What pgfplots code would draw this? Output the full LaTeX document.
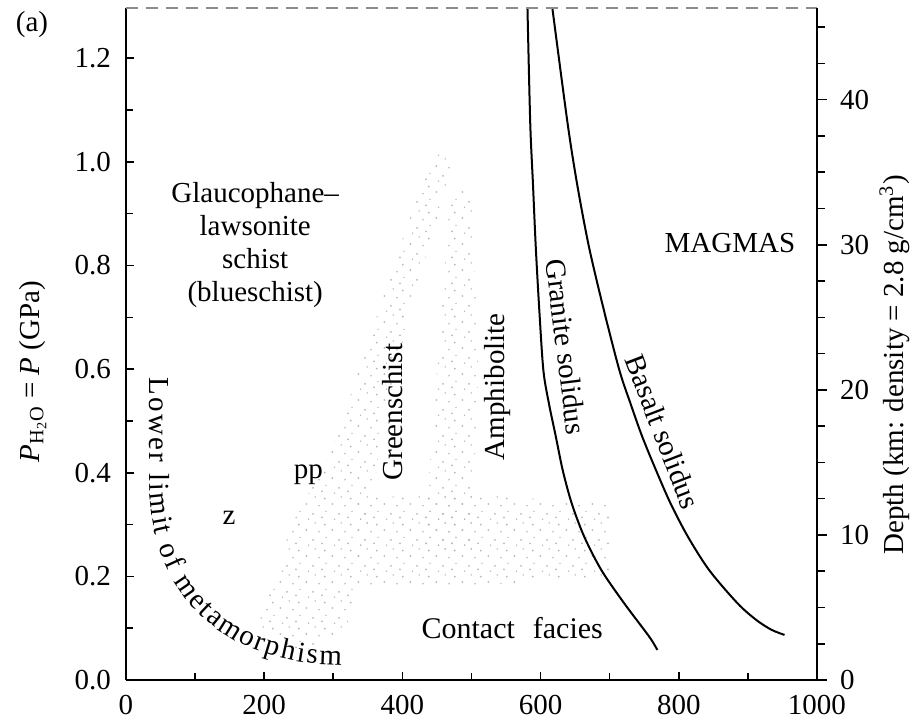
\documentclass[border=0pt]{standalone}
\usepackage{fontspec}
\setmainfont{Liberation Serif}
\usepackage{pgfplots}
\pgfplotsset{compat=1.18}
\usetikzlibrary{patterns,decorations.text}

% sparse, uneven stipple for the facies boundary zones
\pgfdeclarepatternformonly{stipple}{\pgfpoint{-1pt}{-1pt}}{\pgfpoint{14pt}{14pt}}{\pgfpoint{13pt}{13pt}}{%
  \pgfpathcircle{\pgfpoint{0.5pt}{0.5pt}}{0.5pt}%
  \pgfpathcircle{\pgfpoint{7pt}{1.8pt}}{0.4pt}%
  \pgfpathcircle{\pgfpoint{3.5pt}{4.6pt}}{0.45pt}%
  \pgfpathcircle{\pgfpoint{10.2pt}{5.5pt}}{0.5pt}%
  \pgfpathcircle{\pgfpoint{1.6pt}{9pt}}{0.4pt}%
  \pgfpathcircle{\pgfpoint{6.4pt}{8.2pt}}{0.5pt}%
  \pgfpathcircle{\pgfpoint{11.3pt}{10.9pt}}{0.4pt}%
  \pgfpathcircle{\pgfpoint{5pt}{11.8pt}}{0.45pt}%
  \pgfusepath{fill}}

\newcommand\lbl{\fontsize{14.5}{16.5}\selectfont}

\begin{document}
\begin{tikzpicture}
\begin{axis}[
    scale only axis,
    width=345.5pt, height=336pt,
    xmin=0, xmax=1000,
    ymin=0, ymax=1.297,
    axis x line*=bottom,
    axis y line*=left,
    axis line style={line width=0.9pt},
    tick align=inside,
    major tick length=4pt,
    minor tick length=3.5pt,
    every tick/.style={line width=0.8pt, black},
    xtick={0,200,400,600,800,1000},
    minor xtick={100,300,500,700,900},
    ytick={0,0.2,0.4,0.6,0.8,1.0,1.2},
    minor ytick={0.1,0.3,0.5,0.7,0.9,1.1},
    /pgf/number format/assume math mode=true,
    /pgf/number format/1000 sep={},
    tick label style={font=\fontsize{14.5}{17}\selectfont},
    yticklabel style={/pgf/number format/fixed, /pgf/number format/precision=1,
        /pgf/number format/fixed zerofill, xshift=-4pt},
    xticklabel style={yshift=-4pt},
    clip=false,
]
% stippled boundary zones
\addplot[draw=none, pattern=stipple, pattern color=black!28] coordinates {
    (190,0.10) (250,0.05) (320,0.10) (350,0.30) (380,0.55) (430,0.80) (475,1.00)
    (445,1.02) (400,0.85) (350,0.65) (300,0.45) (240,0.30)} -- cycle;
\addplot[draw=none, pattern=stipple, pattern color=black!28] coordinates {
    (430,0.25) (500,0.25) (510,0.60) (500,0.95) (470,0.95) (450,0.60)} -- cycle;
\addplot[draw=none, pattern=stipple, pattern color=black!28] coordinates {
    (330,0.18) (480,0.18) (700,0.20) (700,0.34) (480,0.36) (330,0.35)} -- cycle;

% granite solidus
\addplot[black, line width=1pt, smooth] coordinates {
    (581,1.297) (585,1.075) (589,0.956) (593,0.836) (598,0.717) (604,0.598)
    (612,0.534) (622,0.470) (632,0.405) (645,0.341) (663,0.277) (688,0.212)
    (721,0.148) (757,0.084) (769,0.058)};
% basalt solidus
\addplot[black, line width=1pt, smooth] coordinates {
    (617,1.297) (639,1.075) (653,0.956) (670,0.836) (691,0.717) (714,0.598)
    (730,0.534) (747,0.470) (767,0.405) (788,0.341) (813,0.277) (844,0.212)
    (885,0.148) (912,0.116) (934,0.097) (953,0.087)};

% faint top frame
\draw[black!45, line width=0.6pt, dash pattern=on 6pt off 4pt]
    (rel axis cs:0,1) -- (rel axis cs:1,1);

% labels
\node[font=\lbl] at (axis cs:-136,1.266) {(a)};
\node[font=\lbl, rotate=90] at (axis cs:-135,0.595)
    {\textit{P}\textsubscript{H\textsubscript{2}O} = \textit{P} (GPa)};
\node[font=\lbl, rotate=90] at (axis cs:1112,0.608)
    {Depth (km: density = 2.8 g/cm\textsuperscript{3})};
\node[font=\lbl, align=center] at (axis cs:187,0.840)
    {Glaucophane–\\lawsonite\\schist\\(blueschist)};
\node[font=\lbl] at (axis cs:874,0.844) {MAGMAS};
\node[font=\lbl, rotate=90] at (axis cs:386,0.517) {Greenschist};
\node[font=\lbl, rotate=90] at (axis cs:538,0.566) {Amphibolite};
\node[font=\lbl, rotate=-83] at (axis cs:637,0.643) {Granite solidus};
\node[font=\lbl, rotate=-69] at (axis cs:777,0.479) {Basalt solidus};
\node[font=\lbl] at (axis cs:264,0.396) {pp};
\node[font=\lbl] at (axis cs:149,0.313) {z};
\node[font=\fontsize{15}{17}\selectfont] at (axis cs:559,0.100) {Contact\hspace{9pt}facies};
\path[decorate, decoration={text along path,
        text={|\lbl|Lower limit of metamorphism}, text align=fit to path}]
    (axis cs:33.3,0.583) -- (axis cs:33.3,0.390)
    .. controls (axis cs:33.3,0.140) and (axis cs:160,0.029) .. (axis cs:312,0.029);
\end{axis}

\begin{axis}[
    scale only axis,
    width=345.5pt, height=336pt,
    xmin=0, xmax=1000,
    ymin=0, ymax=46.32,
    axis x line=none,
    axis y line*=right,
    axis line style={line width=0.9pt},
    tick align=outside,
    major tick length=5pt,
    minor tick length=4pt,
    every tick/.style={line width=0.8pt, black},
    ytick={0,10,20,30,40},
    minor ytick={2.5,5,7.5,12.5,15,17.5,22.5,25,27.5,32.5,35,37.5,42.5,45},
    /pgf/number format/assume math mode=true,
    tick label style={font=\fontsize{14.5}{17}\selectfont},
    yticklabel style={xshift=3pt},
]
\end{axis}

\pgfresetboundingbox
\path[use as bounding box] ([shift={(-63pt,-21.5pt)}]current axis.south west)
    rectangle ([shift={(50pt,4pt)}]current axis.north east);
\end{tikzpicture}
\end{document}
